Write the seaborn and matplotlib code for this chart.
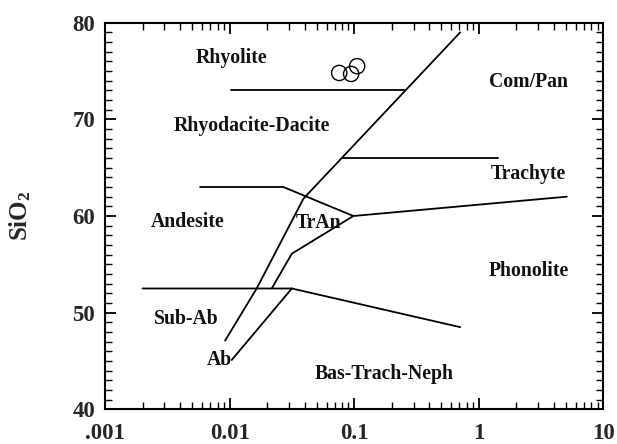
import matplotlib
matplotlib.use("Agg")
import matplotlib.pyplot as plt
import matplotlib.ticker as mticker
import seaborn as sns
import pandas as pd

# --- data -------------------------------------------------------------
seg_rhyolite_x = [0.0103, 0.257]
seg_rhyolite_y = [73.0, 73.0]
seg_diag_x = [0.71, 0.0392, 0.0165, 0.0092]
seg_diag_y = [79.0, 61.8, 52.5, 47.1]
seg_trachyte_x = [0.082, 1.44]
seg_trachyte_y = [66.0, 66.0]
seg_andesite_x = [0.0058, 0.027, 0.0986, 5.1]
seg_andesite_y = [63.0, 63.0, 60.0, 62.0]
seg_tran_x = [0.0218, 0.0316, 0.0986]
seg_tran_y = [52.5, 56.1, 60.0]
seg_ab_x = [0.0316, 0.0104]
seg_ab_y = [52.5, 45.1]
seg_subab_x = [0.0020, 0.0316, 0.71]
seg_subab_y = [52.5, 52.5, 48.5]

sample_x = [0.0759, 0.0946, 0.1057]
sample_y = [74.8, 74.7, 75.5]

field_names = ["Rhyolite", "Rhyodacite-Dacite", "Com/Pan", "Trachyte", "Andesite",
               "TrAn", "Phonolite", "Sub-Ab", "Ab", "Bas-Trach-Neph"]
field_x = [0.0103, 0.0152, 2.5, 2.5, 0.0046, 0.0514, 2.5, 0.00448, 0.00825, 0.174]
field_y = [76.3, 69.3, 73.9, 64.3, 59.4, 59.3, 54.3, 49.3, 45.15, 43.7]

xtick_vals = [0.001, 0.01, 0.1, 1, 10]
xtick_labels = [".001", "0.01", "0.1", "1", "10"]
ytick_vals = [40, 50, 60, 70, 80]

# --- style ------------------------------------------------------------
sns.set_theme(style="ticks")
plt.rcParams["font.family"] = ["Liberation Serif", "DejaVu Serif"]
plt.rcParams["font.weight"] = "bold"
plt.rcParams["mathtext.fontset"] = "custom"
plt.rcParams["mathtext.rm"] = "Liberation Serif:bold"
plt.rcParams["mathtext.bf"] = "Liberation Serif:bold"
plt.rcParams["mathtext.it"] = "Liberation Serif:bold"

fig = plt.figure(figsize=(6.17, 4.44), dpi=100)
ax = fig.add_axes([105 / 617, 1 - 409.3 / 444, (603.3 - 105) / 617, (409.3 - 22.7) / 444])
ax.set_xscale("log")

segs = [
    (seg_rhyolite_x, seg_rhyolite_y), (seg_diag_x, seg_diag_y),
    (seg_trachyte_x, seg_trachyte_y), (seg_andesite_x, seg_andesite_y),
    (seg_tran_x, seg_tran_y), (seg_ab_x, seg_ab_y), (seg_subab_x, seg_subab_y),
]
rows = []
for i, (xs, ys) in enumerate(segs):
    for j, (xv, yv) in enumerate(zip(xs, ys)):
        rows.append({"seg": i, "order": j, "x": xv, "y": yv})
df = pd.DataFrame(rows)
sns.lineplot(data=df, x="x", y="y", units="seg", estimator=None, sort=False,
             color="black", linewidth=1.3, ax=ax, legend=False)

sdf = pd.DataFrame({"x": sample_x, "y": sample_y})
sns.scatterplot(data=sdf, x="x", y="y", ax=ax, s=120, facecolor="none",
                edgecolor="black", linewidth=1.0, legend=False)

for name, xv, yv in zip(field_names, field_x, field_y):
    ax.text(xv, yv, name, ha="center", va="center", fontsize=14.2,
            fontweight="bold", color="#111111")

ax.set_xlim(0.001, 10)
ax.set_ylim(40, 80)
ax.set_xticks(xtick_vals)
ax.xaxis.set_major_formatter(mticker.FixedFormatter(xtick_labels))
ax.xaxis.set_minor_locator(mticker.LogLocator(base=10, subs=range(2, 10), numticks=20))
ax.xaxis.set_minor_formatter(mticker.NullFormatter())
ax.set_yticks(ytick_vals)
ax.yaxis.set_minor_locator(mticker.MultipleLocator(1))
ax.tick_params(which="both", direction="in", top=True, right=True, color="black")
ax.tick_params(which="major", length=8, width=1.3, labelsize=16.5)
ax.tick_params(which="minor", length=4.8, width=1.0)
ax.tick_params(axis="x", which="major", pad=10)
ax.tick_params(axis="y", which="major", pad=7)
for sp in ax.spines.values():
    sp.set_linewidth(1.5)
    sp.set_color("black")
ax.set_xlabel("")
ax.set_ylabel("")
fig.text(20 / 617, 1 - 216 / 444, r"$\mathbf{SiO_2}$", rotation=90, ha="center",
         va="center", fontsize=18)

fig.savefig("out.png", dpi=100)
